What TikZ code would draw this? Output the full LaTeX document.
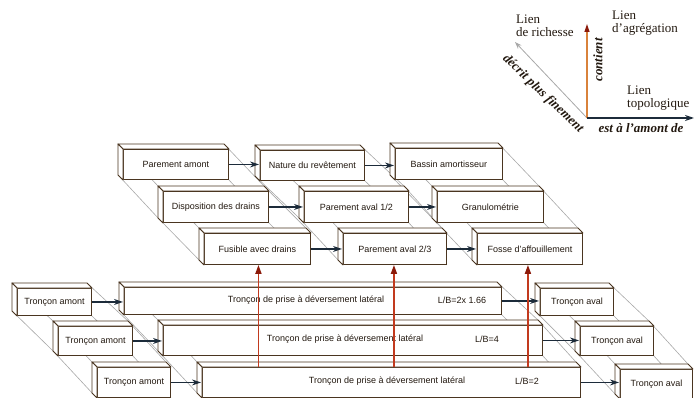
\documentclass[tikz,border=0pt]{standalone}
\usepackage{fontspec}
\setmainfont{Liberation Serif}
\setsansfont{Liberation Sans}
\usetikzlibrary{arrows.meta,calc}

\definecolor{edge}{HTML}{4A3520}
\definecolor{ink}{HTML}{22180F}
\definecolor{navy}{HTML}{1C2B3A}
\definecolor{redarrow}{HTML}{C23A1E}
\definecolor{orangeline}{HTML}{D9823B}
\definecolor{darkred}{HTML}{8B1A0A}
\definecolor{guide}{HTML}{A8A8A8}

\pgfdeclarelayer{back}
\pgfsetlayers{back,main}

\tikzset{
  frontface/.style={draw=edge, line width=0.9pt, fill=white, inner sep=0pt,
    anchor=north west, text=ink, font=\sffamily\fontsize{9}{10}\selectfont},
  sideface/.style={draw=edge, line width=0.9pt, fill=white, line join=round},
  boxtext/.style={inner sep=0pt, text=ink, font=\sffamily\fontsize{9}{10}\selectfont},
  guideline/.style={draw=guide, line width=0.6pt},
  flow/.style={draw=navy, line width=1.2pt, -{Stealth[length=9pt,width=6pt]}, shorten >=1pt},
  contains/.style={draw=redarrow, line width=1.8pt, -{Triangle[length=9pt,width=6pt,color=darkred]}},
  legendtext/.style={inner sep=0pt, align=left, text=ink, font=\fontsize{13}{12.5}\selectfont},
  legenditalic/.style={inner sep=0pt, text=ink, font=\fontsize{13}{13}\selectfont\itshape\bfseries},
}

% a block: front face as a named node, plus its top and left depth faces
\newcommand\blockbox[6]{%
  \node[frontface, minimum width=#4pt, minimum height=#5pt] (#1) at (#2,#3) {#6};
  \filldraw[sideface] (#1.north west) -- ++(-5,-5) -- ($(#1.north east)+(-5,-5)$) -- (#1.north east) -- cycle;
  \filldraw[sideface] (#1.north west) -- ++(-5,-5) -- ($(#1.south west)+(-5,-5)$) -- (#1.south west) -- cycle;
}

% thin guide lines joining the corners of two blocks of one stack
\newcommand\stackguide[2]{%
  \begin{pgfonlayer}{back}
    \draw[guideline] ($(#1.north west)+(-5,-5)$) -- ($(#2.north west)+(-5,-5)$);
    \draw[guideline] ($(#1.south west)+(-5,-5)$) -- ($(#2.south west)+(-5,-5)$);
    \draw[guideline] ($(#1.north east)+(-5,-5)$) -- ($(#2.north east)+(-5,-5)$);
    \draw[guideline] (#1.south east) -- (#2.south east);
  \end{pgfonlayer}
}

\begin{document}
\begin{tikzpicture}[x=1pt, y=-1pt]
\useasboundingbox (0,0) rectangle (699,398);

% ---- upper stack: dam components ----
\blockbox{pa}{123}{149}{105}{30}{Parement amont}
\blockbox{nr}{260}{150}{104}{30}{Nature du revêtement}
\blockbox{ba}{395}{148}{107}{31}{Bassin amortisseur}
\blockbox{dd}{163}{191}{105}{31}{Disposition des drains}
\blockbox{pv1}{304}{191}{104}{31}{Parement aval 1/2}
\blockbox{gr}{437}{191}{106}{31}{Granulométrie}
\blockbox{fd}{204}{233}{106}{31}{Fusible avec drains}
\blockbox{pv2}{343}{233}{103}{31}{Parement aval 2/3}
\blockbox{fa}{477}{233}{105}{31}{Fosse d'affouillement}

% ---- lower stack: river reaches ----
\blockbox{ta1}{17}{288}{74}{27}{Tronçon amont}
\blockbox{big1}{124}{287}{377}{27}{}
\blockbox{tv1}{540}{288}{73}{27}{Tronçon aval}
\blockbox{ta2}{58}{326}{74}{29}{Tronçon amont}
\blockbox{big2}{163}{325}{379}{30}{}
\blockbox{tv2}{580}{326}{73}{29}{Tronçon aval}
\blockbox{ta3}{97}{367}{73}{30}{Tronçon amont}
\blockbox{big3}{202}{367}{378}{30}{}
\blockbox{tv3}{620}{369}{72}{29}{Tronçon aval}

\node[boxtext] (t1) at (306,300) {Tronçon de prise à déversement latéral};
\node[boxtext] (r1) at (462,300) {L/B=2x 1.66};
\node[boxtext] (t2) at (345,339) {Tronçon de prise à déversement latéral};
\node[boxtext] (r2) at (487,339) {L/B=4};
\node[boxtext] (t3) at (387,381) {Tronçon de prise à déversement latéral};
\node[boxtext] (r3) at (527,381) {L/B=2};

% ---- "décrit plus finement" guides ----
\stackguide{pa}{dd}\stackguide{dd}{fd}
\stackguide{nr}{pv1}\stackguide{pv1}{pv2}
\stackguide{ba}{gr}\stackguide{gr}{fa}
\stackguide{ta1}{ta2}\stackguide{ta2}{ta3}
\stackguide{big1}{big2}\stackguide{big2}{big3}
\stackguide{tv1}{tv2}\stackguide{tv2}{tv3}

% ---- topological links ----
\draw[flow] (pa.east) -- (pa.east -| nr.west);
\draw[flow] (nr.east) -- (nr.east -| ba.west);
\draw[flow] (dd.east) -- (dd.east -| pv1.west);
\draw[flow] (pv1.east) -- (pv1.east -| gr.west);
\draw[flow] (fd.east) -- (fd.east -| pv2.west);
\draw[flow] (pv2.east) -- (pv2.east -| fa.west);
\draw[flow] (ta1.east) -- (ta1.east -| big1.west);
\draw[flow] (ta2.east) -- (ta2.east -| big2.west);
\draw[flow] (ta3.east) -- (ta3.east -| big3.west);
\draw[flow] (big1.east) -- (big1.east -| tv1.west);
\draw[flow] (big2.east) -- (big2.east -| tv2.west);
\draw[flow] (big3.east) -- (big3.east -| tv3.west);

% ---- aggregation links ----
\draw[contains] ([xshift=1pt]fd.south |- big3.north) -- ([xshift=1pt]fd.south);
\draw[contains] ([xshift=-1pt]pv2.south |- big3.north) -- ([xshift=-1pt]pv2.south);
\draw[contains] ([xshift=-2pt]fa.south |- big3.north) -- ([xshift=-2pt]fa.south);

% ---- legend ----
\coordinate (o) at (587,118);
\coordinate (ox) at (694,118);
\coordinate (oy) at (587,24);
\coordinate (od) at (515,42);
\draw[draw=guide, line width=0.8pt, -{Stealth[length=7pt,width=5pt]}] (o) -- (od);
\draw[draw=orangeline, line width=1.2pt, -{Triangle[length=8pt,width=5pt,color=darkred]}] (o) -- (oy);
\draw[draw=navy, line width=1.5pt, -{Stealth[length=9pt,width=6pt]}] (o) -- (ox);

\node[legendtext, anchor=north west] (lr) at (516,15) {Lien\\de richesse};
\node[legendtext, anchor=north west] (la) at (612,11) {Lien\\d'agrégation};
\node[legendtext, anchor=north west] (lt) at (627,86) {Lien\\topologique};
\node[legenditalic, rotate=90] (lc) at (598,60) {contient};
\node[legenditalic, rotate=-44] (ld) at (543,94) {décrit plus finement};
\node[legenditalic] (le) at (641,128) {est à l'amont de};
\end{tikzpicture}
\end{document}
